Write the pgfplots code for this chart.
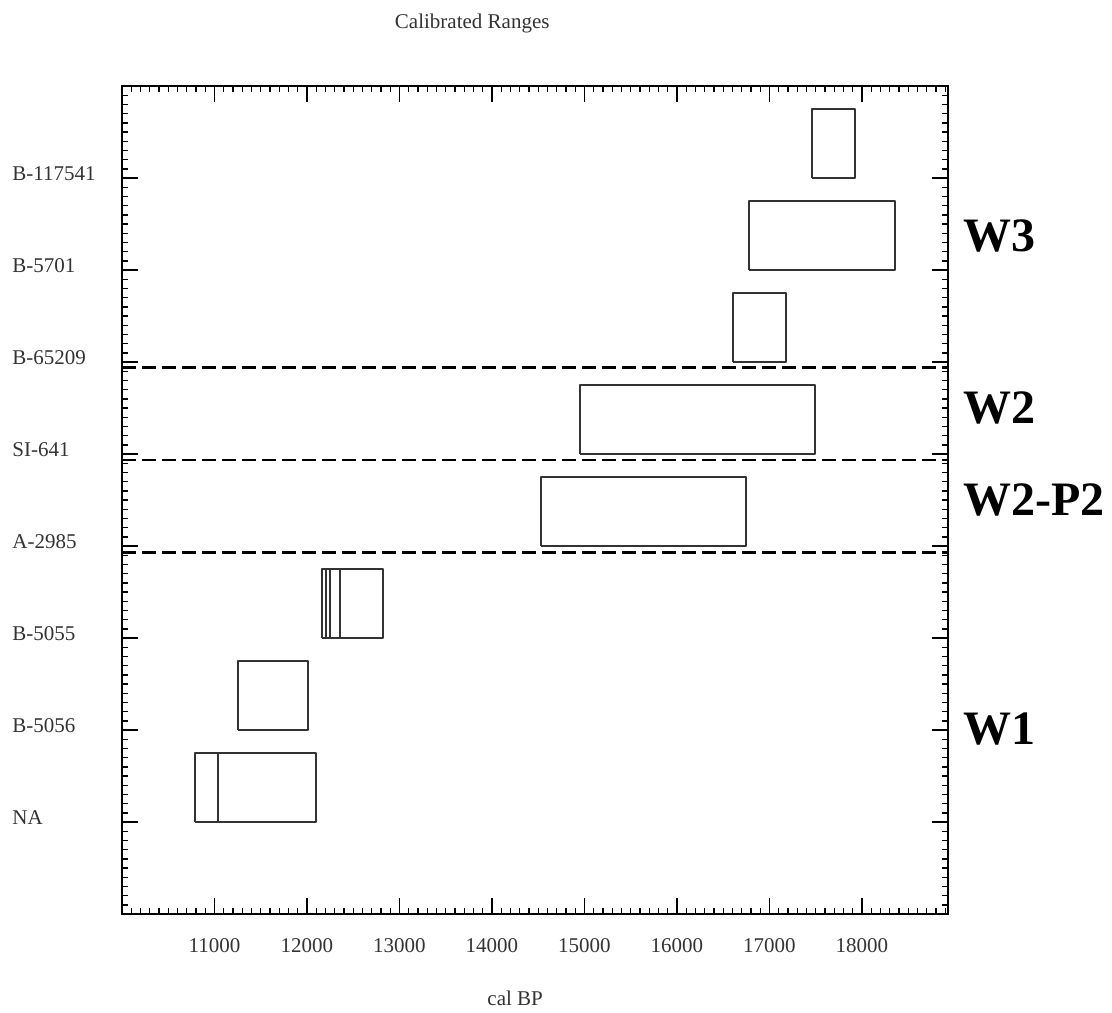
\documentclass[border=0pt]{standalone}
\usepackage{pgfplots}
\pgfplotsset{compat=1.18}
\usepackage{fontspec}
\setmainfont{Liberation Serif}

\tikzset{range box/.style={draw=black!80, line width=1pt, line join=round, mark=none, solid},
  phase line/.style={black, line width=1.4pt, mark=none, dash pattern=on 7pt off 3pt}}

\begin{document}
\begin{tikzpicture}
  \path[use as bounding box] (-61pt,-49pt) rectangle (495pt,457pt);
  \begin{axis}[
      width=413pt, height=414pt, scale only axis,
      xmin=10000, xmax=18930,
      ymin=0, ymax=9,
      xtick={11000,12000,13000,14000,15000,16000,17000,18000},
      xticklabels={11000,12000,13000,14000,15000,16000,17000,18000},
      scaled x ticks=false,
      ytick={1,2,3,4,5,6,7,8},
      yticklabels={NA, B-5056, B-5055, A-2985, SI-641, B-65209, B-5701, B-117541},
      minor xtick={10100,10200,...,18900},
      minor ytick={0.1,0.2,...,8.95},
      tick align=inside,
      major tick length=8pt, minor tick length=3pt,
      every tick/.style={black, line width=0.7pt},
      axis line style={line width=1.1pt},
      ticklabel style={font=\fontsize{10.5}{12}\selectfont, text=black!80},
      xticklabel style={anchor=center, yshift=-16pt},
      yticklabel style={anchor=west, inner sep=0pt, xshift=-55pt, yshift=2pt},
      title={Calibrated Ranges},
      title style={at={(0.424,1)}, anchor=center, yshift=25.5pt, font=\fontsize{10.5}{12}\selectfont, text=black!80},
      xlabel={cal BP},
      xlabel style={at={(0.476,0)}, anchor=center, yshift=-42pt, font=\fontsize{10.5}{12}\selectfont, text=black!80},
      clip=false]

    % phase boundaries
    \addplot[phase line] coordinates {(10000,5.94) (18930,5.94)};
    \addplot[phase line] coordinates {(10000,4.935) (18930,4.935)};
    \addplot[phase line] coordinates {(10000,3.93) (18930,3.93)};

    % calibrated ranges, one rectangle per interval
    \addplot[range box] coordinates {(17459,8) (17920,8) (17920,8.75) (17459,8.75) (17459,8)};
    \addplot[range box] coordinates {(16777,7) (18357,7) (18357,7.75) (16777,7.75) (16777,7)};
    \addplot[range box] coordinates {(16610,6) (17177,6) (17177,6.75) (16610,6.75) (16610,6)};
    \addplot[range box] coordinates {(14955,5) (17492,5) (17492,5.75) (14955,5.75) (14955,5)};
    \addplot[range box] coordinates {(14529,4) (16750,4) (16750,4.75) (14529,4.75) (14529,4)};
    \addplot[range box] coordinates {(12165,3) (12210,3) (12210,3.75) (12165,3.75) (12165,3)};
    \addplot[range box] coordinates {(12210,3) (12250,3) (12250,3.75) (12210,3.75) (12210,3)};
    \addplot[range box] coordinates {(12250,3) (12360,3) (12360,3.75) (12250,3.75) (12250,3)};
    \addplot[range box] coordinates {(12360,3) (12820,3) (12820,3.75) (12360,3.75) (12360,3)};
    \addplot[range box] coordinates {(11252,2) (12007,2) (12007,2.75) (11252,2.75) (11252,2)};
    \addplot[range box] coordinates {(10784,1) (11043,1) (11043,1.75) (10784,1.75) (10784,1)};
    \addplot[range box] coordinates {(11043,1) (12097,1) (12097,1.75) (11043,1.75) (11043,1)};

    % phase names
    \node[anchor=west, inner sep=0pt, font=\fontsize{24}{28}\bfseries\selectfont] at (axis cs:19092,7.37) {W3};
    \node[anchor=west, inner sep=0pt, font=\fontsize{24}{28}\bfseries\selectfont] at (axis cs:19092,5.50) {W2};
    \node[anchor=west, inner sep=0pt, font=\fontsize{24}{28}\bfseries\selectfont] at (axis cs:19092,4.50) {W2-P2};
    \node[anchor=west, inner sep=0pt, font=\fontsize{24}{28}\bfseries\selectfont] at (axis cs:19092,2.01) {W1};
  \end{axis}
\end{tikzpicture}
\end{document}
